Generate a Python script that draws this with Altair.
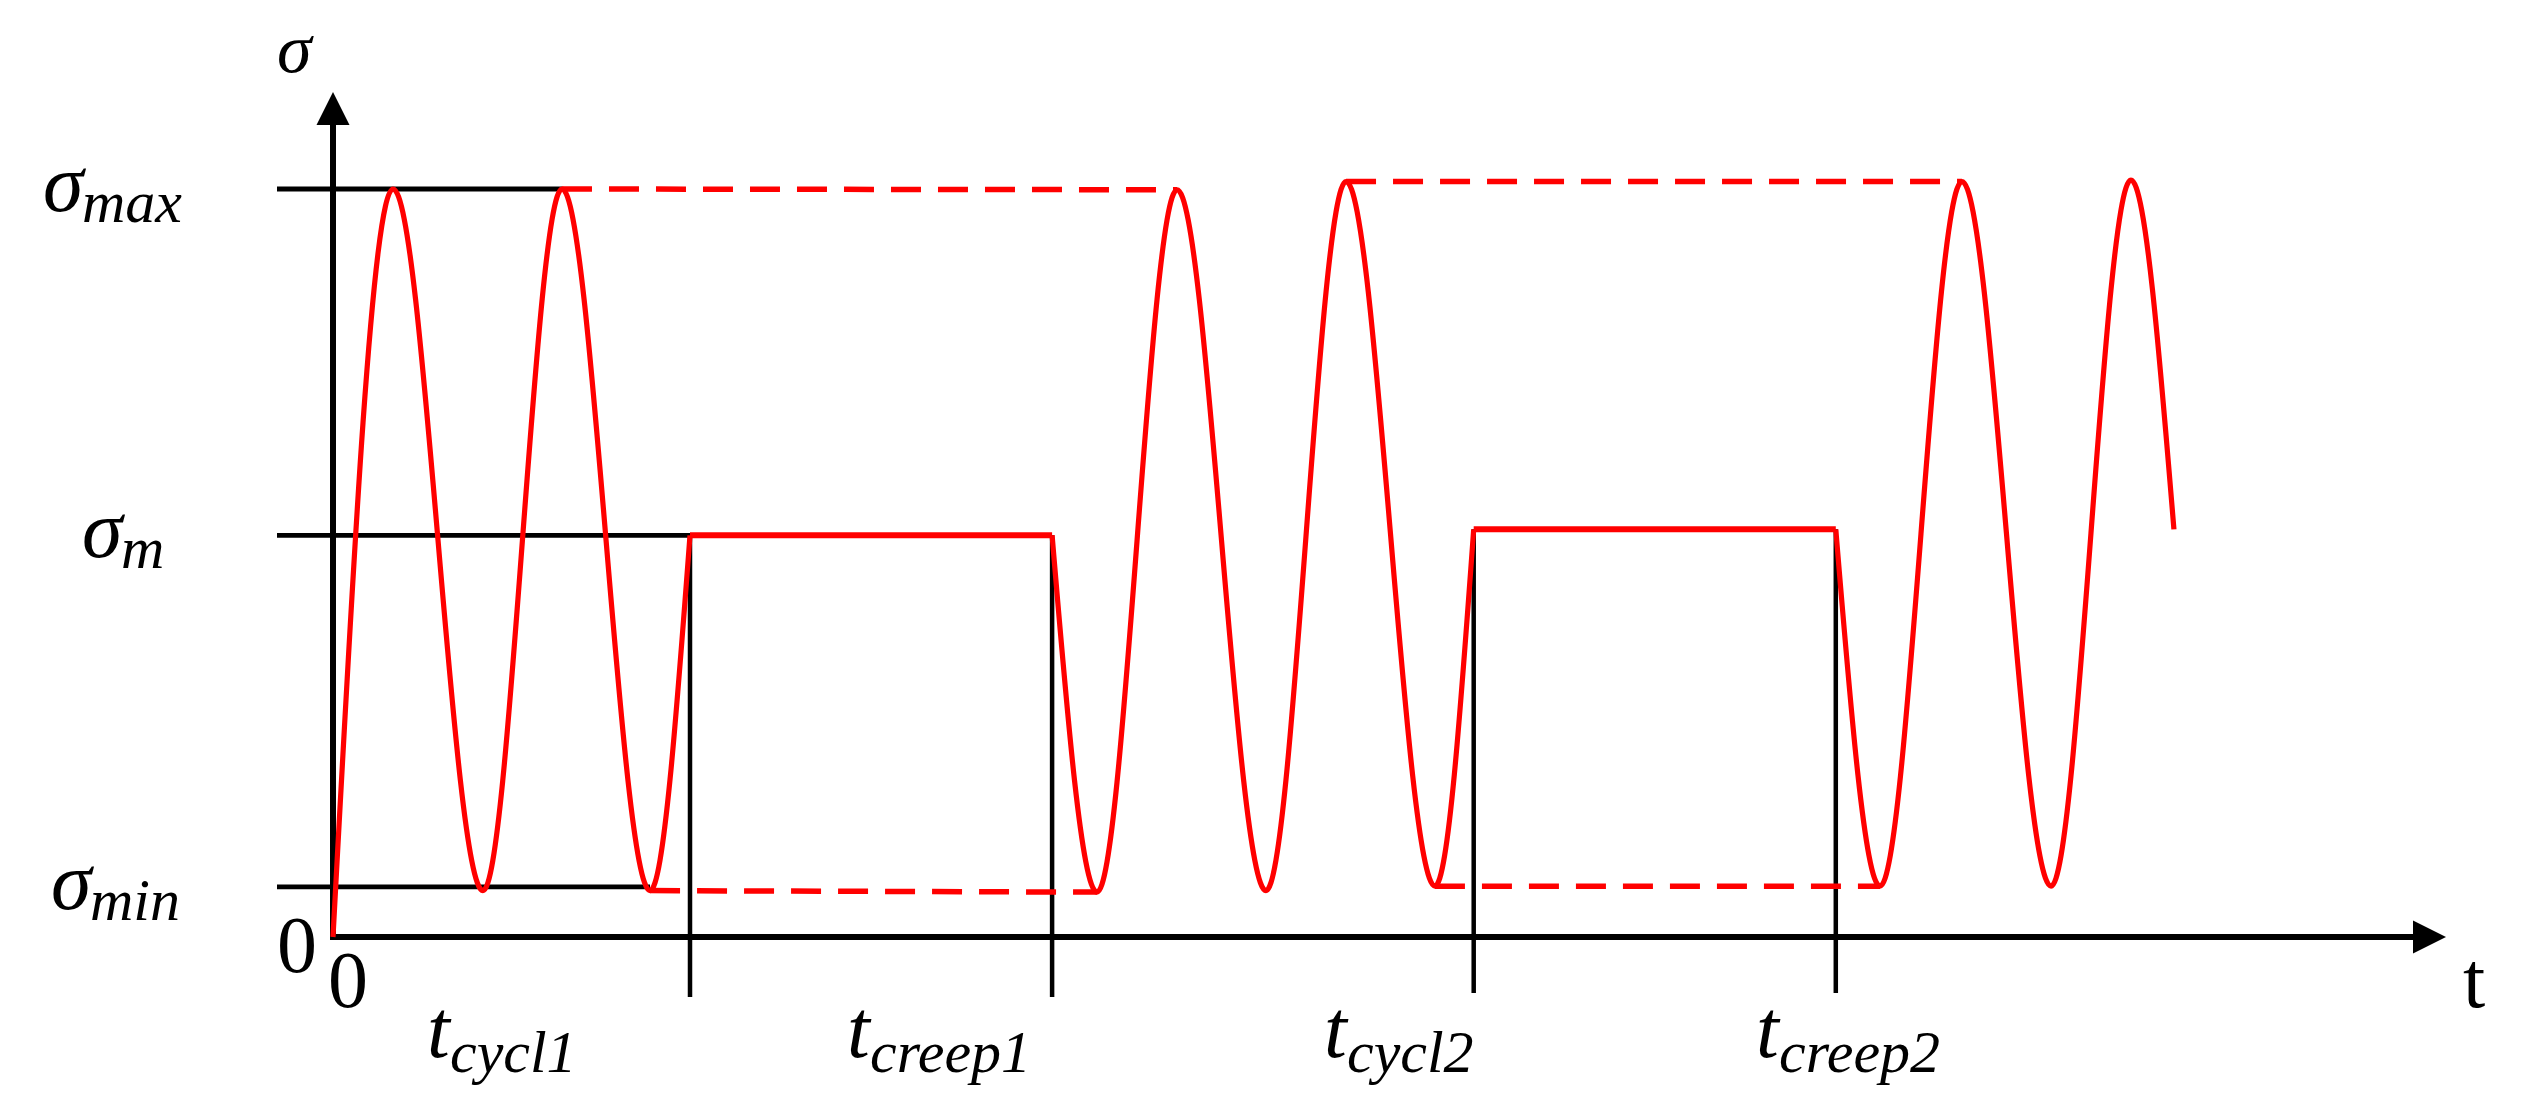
import altair as alt
import pandas as pd

# ---------------- values ----------------
# t : time in units of one load cycle, s : stress (sigma_max = 10)
SIG_MAX, SIG_M, SIG_MIN = 10.0, 5.37, 0.67

PHASE_SUBS = ["cycl1", "creep1", "cycl2", "creep2"]
PHASE_T = [2.10, 4.23, 6.71, 8.84]          # t_cycl1, t_creep1, t_cycl2, t_creep2
CREEP_S = [5.37, 5.45]                      # hold stress of the two creep phases

# cyclic segments (start, extrema, end)
CYC1_T = [0.0, 0.353, 0.882, 1.347, 1.865, 2.10]
CYC1_S = [0.0, 10.0, 0.62, 10.0, 0.62, 5.37]
CYC2_T = [4.23, 4.494, 4.965, 5.488, 5.959, 6.482, 6.71]
CYC2_S = [5.37, 0.60, 9.99, 0.62, 10.1, 0.68, 5.45]
CYC3_T = [8.84, 9.10, 9.582, 10.106, 10.576, 10.829]
CYC3_S = [5.45, 0.68, 10.1, 0.68, 10.12, 5.45]

LEVEL_SUBS = ["max", "m", "min"]
LEVEL_S = [SIG_MAX, SIG_M, SIG_MIN]

# ---------------- layout (pixels) ----------------
W, H = 2517, 1096
KX, KY = 170.0, 74.8          # px per unit
OX, OY = 325, 929             # origin inside the plot area
X_DOM = [-OX / KX, (W - OX) / KX]
Y_DOM = [(OY - H) / KY, OY / KY]

def tx(px):   # page x -> t
    return (px - 8 - OX) / KX

def sy(py):   # page y -> s
    return (OY - (py - 8)) / KY

X_AXIS_END = tx(2413)
Y_AXIS_END = sy(125)
GUIDE_START = tx(277)
TICK_BOTTOM = [sy(997), sy(997), sy(993), sy(993)]
ARROW = 33

RED = "#FF0000"
FONT = "Liberation Serif"

xs = alt.Scale(domain=X_DOM, nice=False, zero=False)
ys = alt.Scale(domain=Y_DOM, nice=False, zero=False)
X = alt.X("t:Q", scale=xs, axis=None)
Y = alt.Y("s:Q", scale=ys, axis=None)

# ---- curve ----
rows = []
for k, (T, S) in enumerate([(CYC1_T, CYC1_S), (CYC2_T, CYC2_S), (CYC3_T, CYC3_S)]):
    for i, (a, b) in enumerate(zip(T, S)):
        rows.append({"t": a, "s": b, "seg": k, "i": i})
cyc = pd.DataFrame(rows)

creep = pd.DataFrame({
    "t": [PHASE_T[0], PHASE_T[2]],
    "t2": [PHASE_T[1], PHASE_T[3]],
    "s": CREEP_S,
})

dashed = pd.DataFrame({
    "t": [CYC1_T[3], CYC2_T[4], CYC1_T[4], CYC2_T[5]],
    "s": [CYC1_S[3], CYC2_S[4], CYC1_S[4], CYC2_S[5]],
    "t2": [CYC2_T[2], CYC3_T[2], CYC2_T[1], CYC3_T[1]],
    "s2": [CYC2_S[2], CYC3_S[2], CYC2_S[1], CYC3_S[1]],
})

guides = pd.DataFrame({
    "t": [GUIDE_START] * 3,
    "t2": [CYC1_T[3], PHASE_T[0], CYC1_T[4]],
    "s": LEVEL_S,
})

ticks = pd.DataFrame({
    "t": PHASE_T,
    "s": [CREEP_S[0], CREEP_S[0], CREEP_S[1], CREEP_S[1]],
    "s2": TICK_BOTTOM,
})

axes = pd.DataFrame({
    "t": [0.0, 0.0], "t2": [X_AXIS_END, 0.0],
    "s": [0.0, 0.0], "s2": [0.0, Y_AXIS_END],
})

# ---- labels ----
top_lbl = pd.DataFrame({"t": [tx(277)], "s": [sy(72)], "text": ["σ"]})
main_lbl = pd.DataFrame({
    "t": [tx(43), tx(82), tx(51)] + [tx(p) for p in (427, 847, 1324, 1756)],
    "s": [v - 22 / KY for v in LEVEL_S] + [sy(1057)] * 4,
    "text": ["σ", "σ", "σ", "t", "t", "t", "t"],
})
sub_lbl = pd.DataFrame({
    "t": [tx(82), tx(121), tx(90)] + [tx(p + 23) for p in (427, 847, 1324, 1756)],
    "s": [v - 33 / KY for v in LEVEL_S] + [sy(1072)] * 4,
    "text": LEVEL_SUBS + PHASE_SUBS,
})
plain_lbl = pd.DataFrame({
    "t": [tx(277), tx(328), tx(2463)],
    "s": [sy(972), sy(1007), sy(1007)],
    "text": ["0", "0", "t"],
})

X2 = alt.X2("t2:Q")
Y2 = alt.Y2("s2:Q")

layers = [
    alt.Chart(guides).mark_rule(color="black", strokeWidth=4.8).encode(x=X, x2=X2, y=Y),
    alt.Chart(ticks).mark_rule(color="black", strokeWidth=4.5).encode(x=X, y=Y, y2=Y2),
    alt.Chart(axes).mark_rule(color="black", strokeWidth=6, strokeCap="square").encode(
        x=X, x2=X2, y=Y, y2=Y2),
    alt.Chart(pd.DataFrame({"t": [0.0], "s": [Y_AXIS_END]})).mark_point(
        shape="M0,-2L1,0L-1,0Z", filled=True, size=ARROW * ARROW, color="black",
        opacity=1, strokeWidth=0).encode(x=X, y=Y),
    alt.Chart(pd.DataFrame({"t": [X_AXIS_END], "s": [0.0]})).mark_point(
        shape="M2,0L0,-1L0,1Z", filled=True, size=ARROW * ARROW, color="black",
        opacity=1, strokeWidth=0).encode(x=X, y=Y),
    alt.Chart(dashed).mark_rule(color=RED, strokeWidth=5.5, strokeDash=[30, 17]).encode(
        x=X, y=Y, x2=X2, y2=Y2),
    alt.Chart(creep).mark_rule(color=RED, strokeWidth=6).encode(x=X, x2=X2, y=Y),
    alt.Chart(cyc).mark_line(color=RED, strokeWidth=5.2, interpolate="monotone").encode(
        x=X, y=Y, detail="seg:N", order="i:Q"),
    alt.Chart(top_lbl).mark_text(font=FONT, fontStyle="italic", fontSize=70, align="left",
                                 baseline="alphabetic", color="black").encode(x=X, y=Y, text="text:N"),
    alt.Chart(main_lbl).mark_text(font=FONT, fontStyle="italic", fontSize=82, align="left",
                                  baseline="alphabetic", color="black").encode(x=X, y=Y, text="text:N"),
    alt.Chart(sub_lbl).mark_text(font=FONT, fontStyle="italic", fontSize=60, align="left",
                                 baseline="alphabetic", color="black").encode(x=X, y=Y, text="text:N"),
    alt.Chart(plain_lbl).mark_text(font=FONT, fontSize=80, align="left",
                                   baseline="alphabetic", color="black").encode(x=X, y=Y, text="text:N"),
]

chart = alt.layer(*layers).properties(
    width=W, height=H, padding=0,
    autosize=alt.AutoSizeParams(type="none"),
).configure_view(strokeWidth=0)

chart.save("out.html", embed_options={"renderer": "svg", "actions": False})
